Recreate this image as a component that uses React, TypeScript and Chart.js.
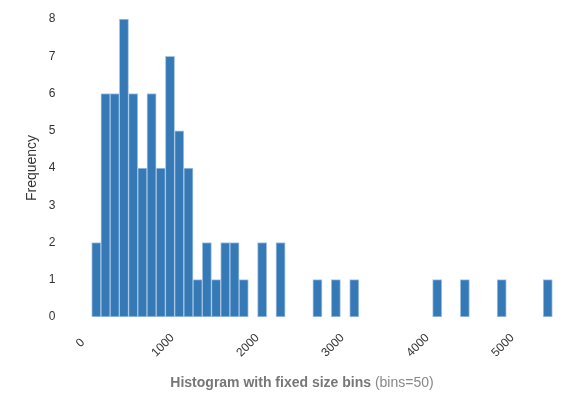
import React, { useEffect, useRef } from "react";
import { Chart, registerables } from "chart.js";

Chart.register(...registerables);

// Histogram: 50 fixed-size bins
const binStart = 167;
const binWidth = 108.4;
const binCounts: (number | null)[] = [
  2, 6, 6, 8, 6, 4, 6, 4, 7, 5,
  4, 1, 2, 1, 2, 2, 1, null, 2, null,
  2, null, null, null, 1, null, 1, null, 1, null,
  null, null, null, null, null, null, null, 1, null, null,
  1, null, null, null, 1, null, null, null, null, 1,
];
const xTicks = [0, 1000, 2000, 3000, 4000, 5000];
const yTicks = [0, 1, 2, 3, 4, 5, 6, 7, 8];
const titleBold = "Histogram with fixed size bins";
const titleNormal = " (bins=50)";
const yTitle = "Frequency";

const FONT = "'Liberation Sans', Arial, Helvetica, sans-serif";

const titlePlugin = {
  id: "bottomTitle",
  afterDraw(chart: any) {
    const ctx = chart.ctx as CanvasRenderingContext2D;
    ctx.save();
    ctx.textBaseline = "middle";
    ctx.font = `bold 14px ${FONT}`;
    const w1 = ctx.measureText(titleBold).width;
    ctx.font = `14px ${FONT}`;
    const w2 = ctx.measureText(titleNormal).width;
    const cx = 302;
    const y = 383;
    let x = cx - (w1 + w2) / 2;
    ctx.fillStyle = "#777777";
    ctx.textAlign = "left";
    ctx.font = `bold 14px ${FONT}`;
    ctx.fillText(titleBold, x, y);
    x += w1;
    ctx.font = `14px ${FONT}`;
    ctx.fillStyle = "#888888";
    ctx.fillText(titleNormal, x, y);
    ctx.restore();
  },
};

export default function App() {
  const ref = useRef<HTMLCanvasElement | null>(null);

  useEffect(() => {
    if (!ref.current) return;
    const data = binCounts.map((c, i) => ({
      x: binStart + binWidth * (i + 0.5),
      y: c,
    }));
    const chart = new Chart(ref.current, {
      type: "bar",
      data: {
        datasets: [
          {
            data: data as any,
            backgroundColor: "#3579b6",
            borderColor: "#a6c4e2",
            borderWidth: 1,
            borderSkipped: false,
            barPercentage: 1,
            categoryPercentage: 1,
          },
        ],
      },
      options: {
        animation: false,
        responsive: true,
        maintainAspectRatio: false,
        layout: { padding: { top: 19, right: 8, bottom: 37, left: 18 } },
        plugins: {
          legend: { display: false },
          tooltip: { enabled: false },
        },
        scales: {
          x: {
            type: "linear",
            offset: false,
            min: -165,
            max: 5865,
            grid: { display: false, drawTicks: false },
            border: { display: false },
            afterBuildTicks: (scale: any) => {
              scale.ticks = xTicks.map((v) => ({ value: v }));
            },
            ticks: {
              minRotation: 45,
              maxRotation: 45,
              labelOffset: 10,
              padding: 14,
              color: "#333333",
              font: { family: FONT, size: 12 },
              // labels are centred on their ticks in the reference; pad short ones
              callback: (v: any) => {
                const s = String(v);
                return s.length < 4 ? s + "  " : s;
              },
            },
          },
          y: {
            min: 0,
            max: 8,
            grid: { display: false, drawTicks: false },
            border: { display: false },
            afterBuildTicks: (scale: any) => {
              scale.ticks = yTicks.map((v) => ({ value: v }));
            },
            ticks: {
              padding: 8,
              color: "#333333",
              font: { family: FONT, size: 12 },
            },
            title: {
              display: true,
              text: yTitle,
              color: "#333333",
              font: { family: FONT, size: 14 },
              padding: { top: 6, bottom: 0 },
            },
          },
        },
      },
      plugins: [titlePlugin],
    });
    return () => chart.destroy();
  }, []);

  return (
    <div style={{ position: "fixed", left: 0, top: 0, width: 584, height: 411 }}>
      <canvas ref={ref} />
    </div>
  );
}
